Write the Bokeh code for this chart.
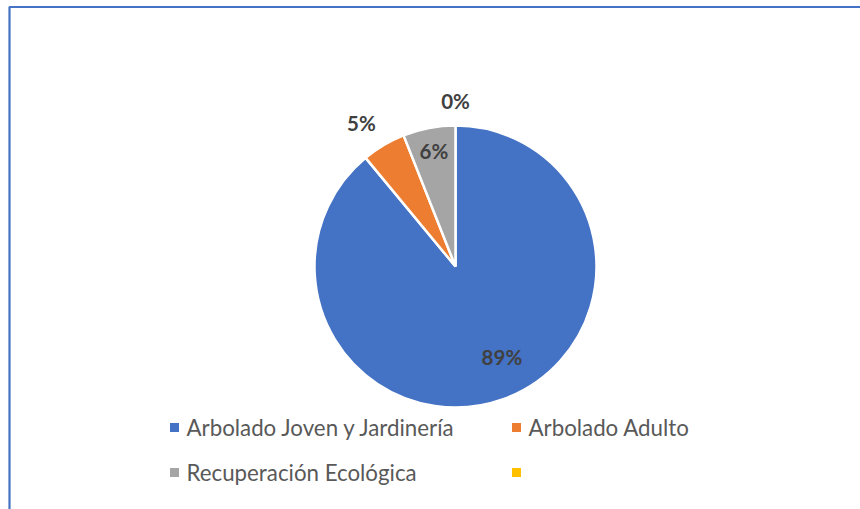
import math
from bokeh.plotting import figure
from bokeh.models import Range1d, ColumnDataSource
from bokeh.core.properties import value
from bokeh.embed import file_html
from bokeh.resources import INLINE

# ---- data ----
categories = ["Arbolado Joven y Jardinería", "Arbolado Adulto", "Recuperación Ecológica", ""]
values = [89.0, 5.0, 6.0, 0.0]
colors = ["#4472C4", "#ED7D31", "#A5A5A5", "#FFC000"]
label_radius = [0.72, 1.20, 0.82, 1.17]   # label placement (fraction of radius)
label_dx = [12, -8, 0, 0]                 # fine label nudges (px)
label_dy = [5, -2, 2, 1]

W, H = 860, 509
p = figure(width=W, height=H, output_backend="svg", toolbar_location=None,
           x_range=Range1d(0, W), y_range=Range1d(0, H), min_border=0,
           outline_line_color=None, background_fill_color="white",
           border_fill_color="white")
p.axis.visible = False
p.grid.visible = False

# chart frame (top and left edges visible in crop)
p.line(x=[9, 9, W], y=[0, 502.5, 502.5], line_color="#4472C4", line_width=2.2)

cx, cy, r = 455, 243, 141
total = sum(values)
starts, ends, wcol, lx, ly, texts = [], [], [], [], [], []
acc = 0.0
for v, f, c, dx, dy in zip(values, label_radius, colors, label_dx, label_dy):
    a0 = math.pi / 2 - 2 * math.pi * acc / total
    a1 = math.pi / 2 - 2 * math.pi * (acc + v) / total
    if v > 0:
        starts.append(a0)
        ends.append(a1)
        wcol.append(c)
    mid = (a0 + a1) / 2
    lx.append(cx + f * r * math.cos(mid) + dx)
    ly.append(cy + f * r * math.sin(mid) + dy)
    texts.append(f"{round(100 * v / total):.0f}%")
    acc += v

src = ColumnDataSource(dict(start=starts, end=ends, color=wcol))
p.wedge(x=cx, y=cy, radius=r, start_angle="start", end_angle="end",
        direction="clock", fill_color="color", line_color="white",
        line_width=2.5, source=src)

p.text(x=lx, y=ly, text=texts, text_align="center", text_baseline="middle",
       text_font=value("Lato"), text_font_style="bold", text_font_size="20.5px",
       text_color="#404040")

# legend (2 columns, 2 rows)
leg_x = [174, 516, 174, 516]
leg_y = [82, 82, 37, 37]
p.scatter(x=leg_x, y=leg_y, marker="square", size=9, fill_color=colors, line_color=None)
p.text(x=[v + 12 for v in leg_x], y=leg_y, text=categories, text_align="left",
       text_baseline="middle", text_font=value("Lato"), text_font_size="22.3px",
       text_color="#595959")

open("out.html", "w").write(file_html(p, INLINE))
